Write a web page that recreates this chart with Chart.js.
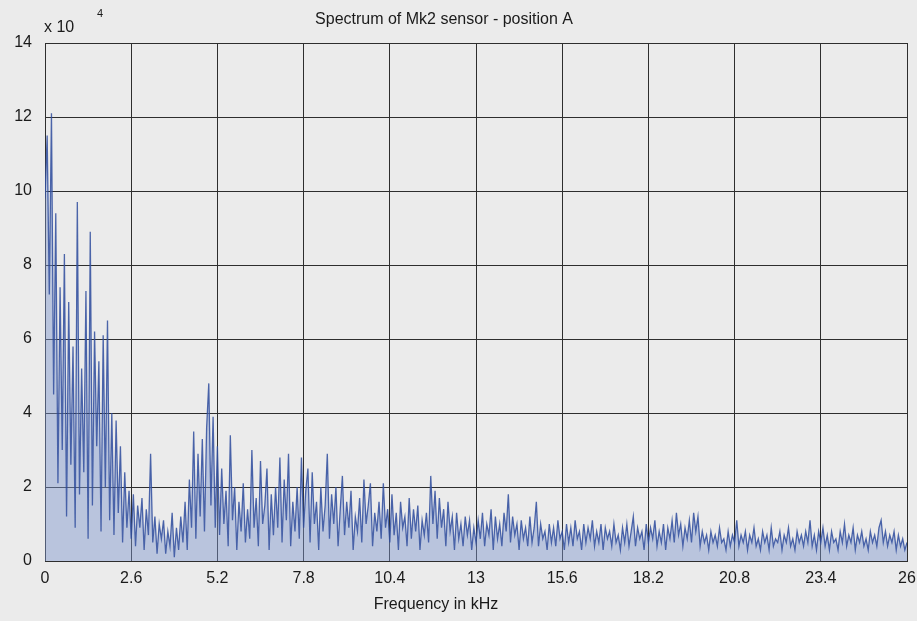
<!DOCTYPE html>
<html>
<head>
<meta charset="utf-8">
<title>Spectrum of Mk2 sensor - position A</title>
<script src="https://cdn.jsdelivr.net/npm/chart.js@4/dist/chart.umd.min.js"></script>
<style>
  html, body { margin: 0; padding: 0; background: #ebebeb; }
  #wrap { width: 917px; height: 621px; }
</style>
</head>
<body>
<div id="wrap"><canvas id="canvas1" width="917" height="621"></canvas></div>
<script>
// spectrum amplitude, in units of 1e4, one sample every 0.065 kHz from 0 to 26 kHz
const freqStep = 0.065;
const amplitude = [
  // 0 - 2.6 kHz
  9.8, 11.5, 7.2, 12.1, 4.5, 9.4, 2.1, 7.4, 3.0, 8.3, 1.2, 7.0, 2.6, 5.8, 0.9, 9.7, 1.8, 5.2, 2.4, 7.3,
  0.6, 8.9, 1.5, 6.2, 3.1, 5.4, 0.8, 6.1, 2.0, 6.5, 1.1, 4.0, 0.7, 3.8, 1.3, 3.1, 0.5, 2.4, 0.9, 1.9,
  // 2.6 - 5.2 kHz
  0.6, 1.8, 0.4, 1.5, 0.9, 1.7, 0.3, 1.4, 0.7, 2.9, 0.5, 1.2, 0.2, 1.0, 0.6, 1.1, 0.2, 0.8, 0.4, 1.3,
  0.1, 0.9, 0.3, 1.2, 0.5, 1.6, 0.3, 2.2, 0.9, 3.5, 0.6, 2.9, 1.2, 3.3, 0.8, 3.6, 4.8, 1.5, 3.9, 0.9,
  // 5.2 - 7.8 kHz
  3.1, 0.7, 2.5, 1.0, 1.9, 0.4, 3.4, 1.1, 2.0, 0.3, 1.6, 0.8, 2.1, 0.5, 1.4, 0.6, 3.0, 0.9, 1.7, 0.4,
  2.7, 1.0, 1.5, 2.5, 0.3, 1.8, 0.7, 2.0, 0.9, 2.8, 0.5, 2.2, 1.1, 2.9, 0.4, 1.6, 0.8, 2.0, 0.6, 2.8,
  // 7.8 - 10.4 kHz
  0.9, 1.9, 2.5, 0.5, 2.4, 1.0, 1.6, 0.3, 2.0, 0.8, 1.5, 2.9, 0.6, 1.8, 1.0, 2.0, 0.4, 1.4, 2.3, 0.7,
  1.6, 0.9, 1.9, 0.3, 1.2, 0.8, 1.7, 0.5, 2.2, 1.0, 1.5, 2.1, 0.4, 1.3, 0.8, 1.6, 0.6, 2.1, 0.9, 1.4,
  // 10.4 - 13 kHz
  0.5, 1.8, 0.7, 1.3, 0.3, 1.6, 0.9, 1.2, 0.4, 1.7, 0.6, 1.4, 0.8, 1.5, 0.3, 1.1, 0.7, 1.3, 0.5, 2.3,
  1.0, 1.9, 0.6, 1.7, 0.9, 1.4, 0.4, 1.6, 0.8, 1.2, 0.3, 1.3, 0.6, 1.0, 0.4, 1.2, 0.7, 1.1, 0.3, 0.9,
  // 13 - 15.6 kHz
  0.5, 1.1, 0.6, 1.3, 0.4, 1.0, 0.7, 1.4, 0.3, 1.2, 0.6, 1.0, 0.4, 1.3, 0.8, 1.8, 0.5, 1.2, 0.7, 1.0,
  0.3, 1.1, 0.6, 0.9, 0.4, 1.2, 0.5, 0.9, 1.6, 0.4, 1.0, 0.6, 0.8, 0.3, 1.0, 0.5, 0.9, 0.4, 1.1, 0.6,
  // 15.6 - 18.2 kHz
  0.8, 0.3, 1.0, 0.5, 0.9, 0.4, 1.1, 0.6, 0.8, 0.3, 1.0, 0.5, 0.9, 0.6, 1.1, 0.4, 0.8, 0.5, 1.0, 0.3,
  0.9, 0.6, 0.8, 0.4, 1.0, 0.5, 0.7, 0.3, 0.9, 0.5, 1.0, 0.4, 0.8, 1.2, 0.4, 0.9, 0.6, 0.8, 0.3, 1.0,
  // 18.2 - 20.8 kHz
  0.5, 0.9, 0.6, 1.1, 0.4, 0.8, 0.5, 1.0, 0.3, 0.9, 0.6, 1.1, 0.5, 1.3, 0.7, 1.0, 0.4, 0.9, 0.6, 1.1,
  0.5, 1.3, 0.8, 1.2, 0.4, 0.8, 0.5, 0.7, 0.3, 0.8, 0.5, 0.7, 0.4, 0.9, 0.5, 0.6, 0.3, 0.8, 0.4, 0.7,
  // 20.8 - 23.4 kHz
  0.5, 1.1, 0.4, 0.7, 0.5, 0.8, 0.3, 0.7, 0.5, 0.9, 0.4, 0.6, 0.3, 0.8, 0.5, 0.7, 0.3, 0.9, 0.4, 0.6,
  0.5, 0.8, 0.3, 0.7, 0.5, 0.9, 0.4, 0.6, 0.3, 0.8, 0.5, 0.7, 0.4, 0.8, 0.5, 1.1, 0.4, 0.7, 0.3, 0.8,
  // 23.4 - 26 kHz
  0.5, 0.9, 0.4, 0.7, 0.3, 0.8, 0.5, 0.6, 0.3, 0.8, 0.5, 1.0, 0.4, 0.7, 0.5, 0.9, 0.3, 0.7, 0.5, 0.8,
  0.4, 0.6, 0.3, 0.8, 0.5, 0.7, 0.4, 0.9, 1.1, 0.5, 0.8, 0.4, 0.7, 0.5, 0.8, 0.3, 0.7, 0.4, 0.6, 0.3,
  0.5
];
const xTicks = [0, 2.6, 5.2, 7.8, 10.4, 13, 15.6, 18.2, 20.8, 23.4, 26];
const yTicks = [0, 2, 4, 6, 8, 10, 12, 14];

const chartTitle = 'Spectrum of Mk2 sensor - position A';
const xTitle = 'Frequency in kHz';
const textFont = '"Liberation Sans", Arial, sans-serif';

function SpectrumChart() {
    const points = amplitude.map((v, i) => ({ x: i * freqStep, y: v }));

    // title, x-axis title and the "x 10^4" multiplier are drawn by hand
    const labelsPlugin = {
        id: 'labels',
        afterDraw(chart) {
            const ctx = chart.ctx;
            ctx.save();
            ctx.fillStyle = '#1a1a1a';
            ctx.textBaseline = 'middle';
            ctx.font = '16px ' + textFont;
            ctx.textAlign = 'center';
            ctx.fillText(chartTitle, 444, 20);
            ctx.fillText(xTitle, 436, 605);
            ctx.textAlign = 'left';
            ctx.fillText('x 10', 44, 28);
            ctx.font = '11px ' + textFont;
            ctx.fillText('4', 97, 14);
            ctx.restore();
        }
    };

    const data = {
        datasets: [{
            label: 'Spectrum',
            data: points,
            borderColor: 'rgba(48, 78, 158, 0.85)',
            backgroundColor: 'rgba(125, 148, 205, 0.45)',
            borderWidth: 1.3,
            pointRadius: 0,
            tension: 0,
            fill: 'origin'
        }]
    };

    const config = {
        type: 'line',
        data: data,
        options: {
            responsive: false,
            animation: false,
            devicePixelRatio: 1,
            layout: { padding: { top: 43, right: 10, left: 0, bottom: 0 } },
            plugins: {
                legend: { display: false },
                title: { display: false },
                tooltip: { enabled: false },
                filler: { propagate: false }
            },
            scales: {
                x: {
                    type: 'linear',
                    min: 0,
                    max: 26,
                    afterBuildTicks: s => { s.ticks = xTicks.map(v => ({ value: v })); },
                    afterFit: s => { s.height = 60; s.paddingLeft = 0; s.paddingRight = 0; },
                    grid: { color: '#2e2e2e', lineWidth: 1, drawTicks: false },
                    border: { color: '#2e2e2e' },
                    ticks: {
                        color: '#1a1a1a',
                        padding: 8,
                        maxRotation: 0,
                        autoSkip: false,
                        font: { size: 16, family: textFont },
                        callback: v => String(v)
                    }
                },
                y: {
                    min: 0,
                    max: 14,
                    afterBuildTicks: s => { s.ticks = yTicks.map(v => ({ value: v })); },
                    afterFit: s => { s.width = 45; s.paddingTop = 0; s.paddingBottom = 0; },
                    grid: { color: '#2e2e2e', lineWidth: 1, drawTicks: false },
                    border: { color: '#2e2e2e' },
                    ticks: {
                        color: '#1a1a1a',
                        padding: 13,
                        font: { size: 16, family: textFont },
                        callback: v => String(v)
                    }
                }
            }
        },
        plugins: [labelsPlugin]
    };

    const canvas = document.getElementById('canvas1');
    return new Chart(canvas, config);
}

SpectrumChart();
</script>
</body>
</html>
